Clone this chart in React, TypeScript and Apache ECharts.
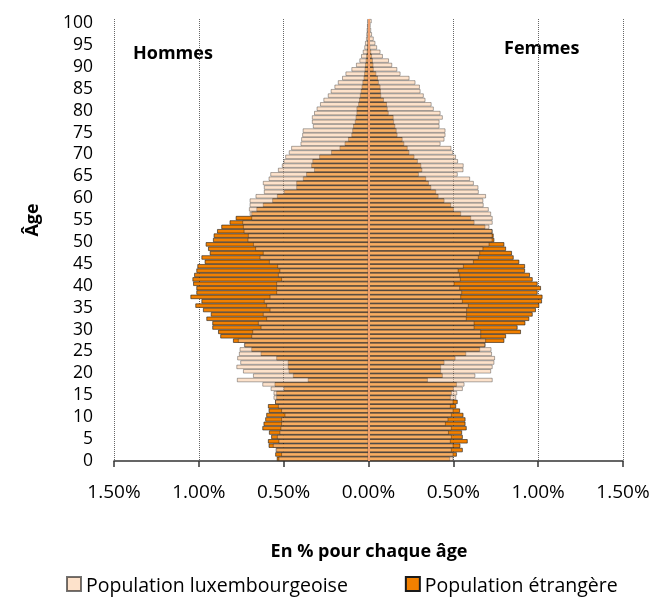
import React, { useEffect, useRef } from "react";
import * as echarts from "echarts";

const ages: string[] = Array.from({ length: 101 }, (_, i) => String(i));

// Hommes – Population luxembourgeoise (% per age), ages 0..100
const menLux: number[] = [
  0.53, 0.514, 0.547, 0.563, 0.53, 0.539, 0.524, 0.518, 0.514, 0.514,
  0.494, 0.514, 0.533, 0.55, 0.559, 0.559, 0.576, 0.625, 0.775, 0.68,
  0.739, 0.778, 0.755, 0.773, 0.763, 0.759, 0.733, 0.769, 0.69, 0.684,
  0.635, 0.651, 0.602, 0.622, 0.582, 0.602, 0.616, 0.582, 0.543, 0.543,
  0.543, 0.514, 0.533, 0.524, 0.537, 0.586, 0.641, 0.622, 0.667, 0.68,
  0.712, 0.71, 0.735, 0.739, 0.743, 0.69, 0.7, 0.704, 0.7, 0.7,
  0.665, 0.616, 0.616, 0.622, 0.588, 0.578, 0.533, 0.51, 0.5, 0.49,
  0.469, 0.455, 0.4, 0.396, 0.39, 0.387, 0.327, 0.333, 0.333, 0.32,
  0.305, 0.285, 0.265, 0.239, 0.222, 0.2, 0.18, 0.155, 0.135, 0.1,
  0.073, 0.053, 0.043, 0.033, 0.024, 0.02, 0.014, 0.012, 0.01, 0.008,
  0.006,
];

// Hommes – Population étrangère
const menEtr: number[] = [
  0.54, 0.549, 0.543, 0.588, 0.592, 0.573, 0.586, 0.625, 0.618, 0.608,
  0.602, 0.588, 0.592, 0.55, 0.543, 0.543, 0.5, 0.553, 0.357, 0.445,
  0.47, 0.475, 0.475, 0.543, 0.635, 0.69, 0.73, 0.798, 0.873, 0.886,
  0.92, 0.92, 0.955, 0.929, 0.975, 1.02, 0.984, 1.049, 1.014, 1.014,
  1.033, 1.037, 1.027, 1.014, 1.008, 0.965, 0.984, 0.935, 0.945, 0.959,
  0.916, 0.912, 0.892, 0.867, 0.818, 0.782, 0.69, 0.66, 0.622, 0.567,
  0.539, 0.498, 0.425, 0.425, 0.386, 0.367, 0.32, 0.337, 0.33, 0.29,
  0.22, 0.17, 0.14, 0.12, 0.1, 0.095, 0.09, 0.08, 0.075, 0.07,
  0.07, 0.06, 0.055, 0.05, 0.045, 0.04, 0.035, 0.028, 0.025, 0.022,
  0.02, 0.016, 0.013, 0.01, 0.008, 0.006, 0.005, 0.004, 0.003, 0.002,
  0.001,
];

// Femmes – Population luxembourgeoise
const womenLux: number[] = [
  0.5, 0.5, 0.49, 0.5, 0.484, 0.49, 0.473, 0.49, 0.455, 0.47,
  0.49, 0.5, 0.484, 0.5, 0.516, 0.522, 0.555, 0.565, 0.731, 0.629,
  0.722, 0.731, 0.741, 0.745, 0.727, 0.724, 0.688, 0.692, 0.663, 0.663,
  0.624, 0.624, 0.578, 0.58, 0.58, 0.59, 0.555, 0.545, 0.551, 0.539,
  0.506, 0.543, 0.539, 0.53, 0.561, 0.62, 0.649, 0.657, 0.676, 0.712,
  0.73, 0.73, 0.73, 0.712, 0.731, 0.731, 0.722, 0.708, 0.678, 0.676,
  0.692, 0.649, 0.647, 0.62, 0.598, 0.525, 0.559, 0.56, 0.527, 0.515,
  0.498, 0.488, 0.424, 0.447, 0.453, 0.453, 0.418, 0.418, 0.437, 0.424,
  0.384, 0.371, 0.335, 0.325, 0.306, 0.302, 0.276, 0.241, 0.188, 0.169,
  0.139, 0.12, 0.084, 0.07, 0.05, 0.04, 0.03, 0.02, 0.015, 0.012,
  0.018,
];

// Femmes – Population étrangère
const womenEtr: number[] = [
  0.48, 0.52, 0.555, 0.541, 0.584, 0.555, 0.551, 0.578, 0.571, 0.571,
  0.559, 0.539, 0.516, 0.525, 0.484, 0.49, 0.502, 0.52, 0.349, 0.437,
  0.427, 0.427, 0.447, 0.512, 0.575, 0.657, 0.688, 0.8, 0.81, 0.898,
  0.878, 0.924, 0.947, 0.967, 0.986, 1.006, 1.022, 1.025, 0.996, 1.016,
  0.996, 0.967, 0.951, 0.922, 0.922, 0.888, 0.855, 0.845, 0.81, 0.8,
  0.741, 0.737, 0.73, 0.688, 0.624, 0.604, 0.545, 0.502, 0.486, 0.447,
  0.412, 0.398, 0.369, 0.355, 0.339, 0.296, 0.316, 0.31, 0.29, 0.27,
  0.24, 0.23, 0.21, 0.2, 0.17, 0.165, 0.157, 0.15, 0.147, 0.118,
  0.112, 0.108, 0.09, 0.074, 0.072, 0.07, 0.06, 0.055, 0.045, 0.03,
  0.028, 0.025, 0.02, 0.015, 0.01, 0.008, 0.006, 0.005, 0.004, 0.003,
  0.002,
];

const xTicks = { min: -1.5, max: 1.5, interval: 0.5 };

const FONT = "'Open Sans', sans-serif";
const LUX = "Population luxembourgeoise";
const ETR = "Population étrangère";

export default function App() {
  const ref = useRef<HTMLDivElement>(null);

  useEffect(() => {
    if (!ref.current) return;
    const chart = echarts.init(ref.current, undefined, { renderer: "svg" });

    const etrStyle = {
      color: "#F28000",
      borderColor: "#1a1a1a",
      borderWidth: 0.6,
    };
    const luxStyle = {
      color: "rgba(252,205,165,0.58)",
      borderColor: "rgba(0,0,0,0.55)",
      borderWidth: 0.6,
    };
    const common = {
      type: "bar" as const,
      barGap: "-100%",
      barCategoryGap: "4%",
      silent: true,
    };

    chart.setOption({
      animation: false,
      textStyle: { fontFamily: FONT },
      grid: { left: 114, right: 31, top: 19, bottom: 139, containLabel: false },
      legend: {
        data: [LUX, ETR],
        left: 61,
        top: 569,
        itemWidth: 14,
        itemHeight: 14,
        itemGap: 57,
        icon: "rect",
        textStyle: { fontFamily: FONT, fontSize: 19.5, color: "#000" },
      },
      xAxis: {
        type: "value",
        min: xTicks.min,
        max: xTicks.max,
        interval: xTicks.interval,
        axisLine: { show: true, onZero: false, lineStyle: { color: "#333", width: 1.5 } },
        axisTick: { show: true, length: 6, lineStyle: { color: "#333", width: 1.5 } },
        axisLabel: {
          fontFamily: FONT,
          fontSize: 19,
          color: "#000",
          margin: 20,
          formatter: (v: number) => Math.abs(v).toFixed(2) + "%",
        },
        splitLine: {
          show: true,
          lineStyle: { color: "#666", type: "dotted", width: 1 },
        },
      },
      yAxis: {
        type: "category",
        data: ages,
        axisLine: { show: false },
        axisTick: { show: false },
        axisLabel: {
          interval: 4,
          fontFamily: FONT,
          fontSize: 17.5,
          color: "#000",
          margin: 21,
        },
        splitLine: { show: false },
      },
      series: [
        { ...common, name: ETR, data: menEtr.map((v) => -v), itemStyle: etrStyle },
        { ...common, name: ETR, data: womenEtr, itemStyle: etrStyle },
        { ...common, name: LUX, data: menLux.map((v) => -v), itemStyle: luxStyle },
        {
          ...common,
          name: LUX,
          data: womenLux,
          itemStyle: luxStyle,
          markLine: {
            silent: true,
            symbol: "none",
            z: 10,
            label: { show: false },
            lineStyle: { color: "#EFA06E", width: 2, type: "solid" },
            data: [{ xAxis: 0 }],
          },
        },
      ],
      graphic: [
        {
          type: "text",
          left: 133,
          top: 43,
          style: { text: "Hommes", font: `bold 18px ${FONT}`, fill: "#000" },
        },
        {
          type: "text",
          left: 504,
          top: 38,
          style: { text: "Femmes", font: `bold 18px ${FONT}`, fill: "#000" },
        },
        {
          type: "text",
          x: 31,
          y: 220,
          rotation: Math.PI / 2,
          style: {
            text: "Âge",
            font: `bold 18px ${FONT}`,
            fill: "#000",
            align: "center",
            verticalAlign: "middle",
          },
        },
        {
          type: "text",
          x: 369,
          y: 550,
          style: {
            text: "En % pour chaque âge",
            font: `bold 18px ${FONT}`,
            fill: "#000",
            align: "center",
            verticalAlign: "middle",
          },
        },
      ],
    });

    return () => chart.dispose();
  }, []);

  return (
    <div
      ref={ref}
      style={{ position: "fixed", left: 0, top: 0, width: 654, height: 600 }}
    />
  );
}
